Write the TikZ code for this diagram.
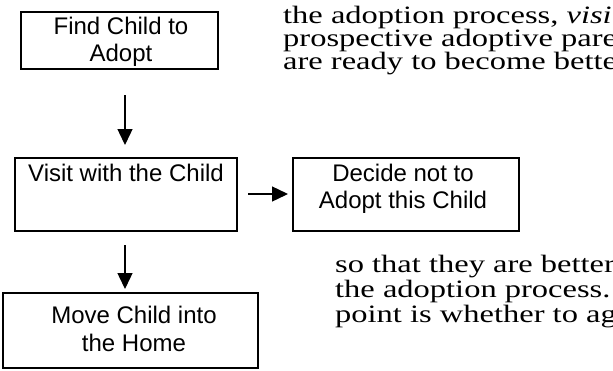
\documentclass[tikz,border=0pt]{standalone}
\usepackage{fontspec}
\setmainfont{Liberation Serif}
\newfontfamily\boxfont{Liberation Sans}
\newfontfamily\bodyfont[FakeStretch=1.3]{Liberation Serif}
\usetikzlibrary{arrows.meta}
\begin{document}
\begin{tikzpicture}[x=1pt,y=-1pt,
  flowbox/.style={draw,line width=1.8pt},
  boxtext/.style={font=\boxfont\fontsize{24}{28}\selectfont,anchor=base,inner sep=0pt},
  bodytext/.style={font=\bodyfont\fontsize{25}{25}\selectfont,anchor=base west,inner sep=0pt},
  flowarrow/.style={line width=1.4pt,-{Triangle[length=16pt,width=15pt]}}]
\useasboundingbox (0,0) rectangle (613,370);
\fill[white] (0,0) rectangle (613,370);

% the four process boxes
\draw[flowbox] (21,12) rectangle (218,69);
\node[boxtext] (t1a) at (121,34) {Find Child to};
\node[boxtext] (t1b) at (121,61) {Adopt};

\draw[flowbox] (15,158) rectangle (237,231);
\node[boxtext] (t2) at (126,181) {Visit with the Child};

\draw[flowbox] (293,158) rectangle (519,231);
\node[boxtext] (t3a) at (403,181) {Decide not to};
\node[boxtext] (t3b) at (403,208) {Adopt this Child};

\draw[flowbox] (3,293) rectangle (258,368);
\node[boxtext] (t4a) at (134,323) {Move Child into};
\node[boxtext] (t4b) at (134,351) {the Home};

% connectors
\coordinate (a1s) at (125,95);  \coordinate (a1e) at (125,145);
\coordinate (a2s) at (125,245); \coordinate (a2e) at (125,289);
\coordinate (a3s) at (248,194); \coordinate (a3e) at (288,194);
\draw[flowarrow] (a1s) -- (a1e);
\draw[flowarrow] (a2s) -- (a2e);
\draw[flowarrow] (a3s) -- (a3e);

% running text around the chart, cut at the page edge
\begin{scope}
\clip (0,0) rectangle (613,370);
\node[bodytext] (p1) at (283,23) {the adoption process, \textit{visiting}};
\node[bodytext] (p2) at (283,46) {prospective adoptive parents};
\node[bodytext] (p3) at (283,69) {are ready to become better};
\node[bodytext] (p4) at (335,272) {so that they are better};
\node[bodytext] (p5) at (335,297) {the adoption process.};
\node[bodytext] (p6) at (335,322) {point is whether to agree};
\end{scope}
\end{tikzpicture}
\end{document}
